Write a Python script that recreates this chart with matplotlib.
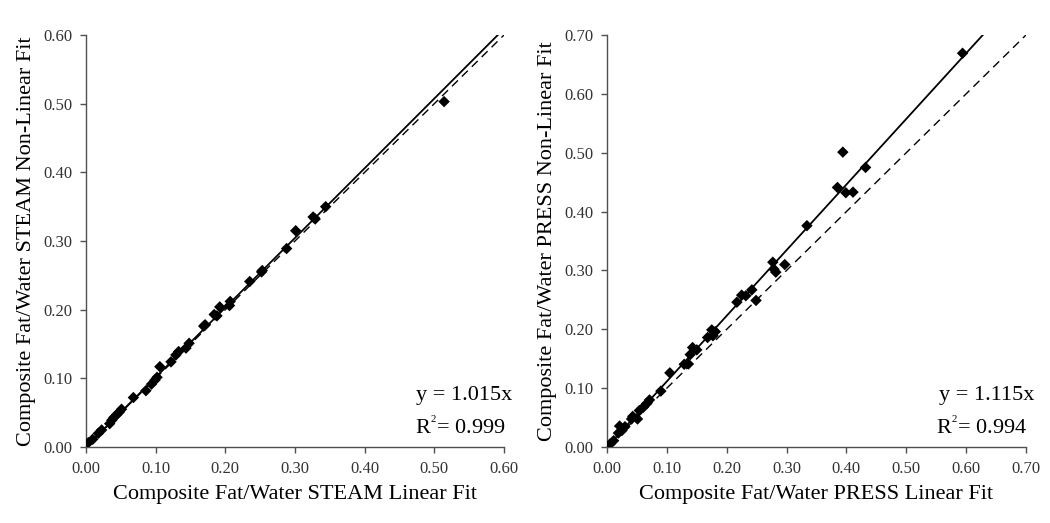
import matplotlib
matplotlib.use("Agg")
import matplotlib.pyplot as plt
import numpy as np

plt.rcParams["font.family"] = ["Liberation Serif", "DejaVu Serif"]
plt.rcParams["mathtext.fontset"] = "custom"
plt.rcParams["mathtext.rm"] = "Liberation Serif"
plt.rcParams["mathtext.it"] = "Liberation Serif:italic"

# STEAM (left) data
steam_linear = [0.514, 0.344, 0.326, 0.329, 0.301, 0.288, 0.253, 0.252, 0.235, 0.207, 0.206,
                0.192, 0.188, 0.184, 0.171, 0.169, 0.148, 0.1435, 0.133, 0.129, 0.122, 0.106,
                0.102, 0.099, 0.094, 0.086, 0.068, 0.051, 0.048, 0.044, 0.040, 0.037, 0.034,
                0.0225, 0.0177, 0.0096, 0.0033]
steam_nonlinear = [0.503, 0.350, 0.335, 0.332, 0.315, 0.289, 0.257, 0.255, 0.241, 0.212, 0.206,
                   0.204, 0.191, 0.193, 0.178, 0.176, 0.151, 0.144, 0.139, 0.134, 0.124, 0.117,
                   0.1015, 0.0975, 0.0915, 0.082, 0.072, 0.055, 0.051, 0.047, 0.043, 0.039, 0.034,
                   0.0248, 0.0199, 0.0112, 0.0063]

# PRESS (right) data
press_linear = [0.594, 0.394, 0.432, 0.385, 0.399, 0.411, 0.334, 0.277, 0.297, 0.279, 0.282,
                0.242, 0.232, 0.225, 0.217, 0.249, 0.175, 0.181, 0.168, 0.177, 0.143, 0.150,
                0.139, 0.129, 0.136, 0.105, 0.090, 0.071, 0.066, 0.0607, 0.054, 0.051, 0.041,
                0.043, 0.030, 0.021, 0.025, 0.019, 0.011, 0.005]
press_nonlinear = [0.669, 0.501, 0.475, 0.441, 0.432, 0.433, 0.376, 0.314, 0.310, 0.302, 0.297,
                   0.267, 0.257, 0.258, 0.246, 0.249, 0.199, 0.196, 0.186, 0.189, 0.169, 0.165,
                   0.157, 0.1405, 0.141, 0.126, 0.095, 0.080, 0.0735, 0.0675, 0.062, 0.0476, 0.0476,
                   0.052, 0.0345, 0.0356, 0.028, 0.0237, 0.0107, 0.0051]

steam_slope = 1.015
press_slope = 1.115
steam_ticks = [0.00, 0.10, 0.20, 0.30, 0.40, 0.50, 0.60]
press_ticks = [0.00, 0.10, 0.20, 0.30, 0.40, 0.50, 0.60, 0.70]

fig = plt.figure(figsize=(10.5, 5.23), dpi=100)
W, H = 1050, 523
axL = fig.add_axes([86 / W, 76 / H, 418 / W, 412 / H])
axR = fig.add_axes([607 / W, 76 / H, 419 / W, 412 / H])


def style(ax, ticks, xlabel, ylabel, xs, ys, slope, eq, r2):
    lim = ticks[-1]
    ax.set_xlim(0, lim)
    ax.set_ylim(0, lim)
    xx = np.array([0, lim])
    ax.plot(xx, slope * xx, color="black", lw=1.3, solid_capstyle="butt", zorder=2)
    ax.plot(xx, xx, color="black", lw=1.0, ls=(0, (6, 4)), zorder=2)
    ax.scatter(xs, ys, marker="D", s=34, color="black", edgecolors="none", zorder=3)
    for s in ["top", "right"]:
        ax.spines[s].set_visible(False)
    for s in ["left", "bottom"]:
        ax.spines[s].set_color("#505050")
        ax.spines[s].set_linewidth(1.0)
    ax.set_xticks(ticks)
    ax.set_yticks(ticks)
    ax.set_xticklabels([f"{t:.2f}" for t in ticks])
    ax.set_yticklabels([f"{t:.2f}" for t in ticks])
    ax.tick_params(axis="both", direction="out", length=4, width=1.0, color="#505050",
                   labelsize=12, labelcolor="#333333")
    ax.tick_params(axis="y", pad=6)
    ax.tick_params(axis="x", pad=6)
    ax.set_xlabel(xlabel, fontsize=16, labelpad=6)
    ax.set_ylabel(ylabel, fontsize=16, labelpad=5)
    ax.text(0.905, 0.125, eq, transform=ax.transAxes, ha="center", va="center", fontsize=16)
    ax.text(0.895, 0.045, r2, transform=ax.transAxes, ha="center", va="center", fontsize=16)


style(axL, steam_ticks, "Composite Fat/Water STEAM Linear Fit",
      "Composite Fat/Water STEAM Non-Linear Fit", steam_linear, steam_nonlinear,
      steam_slope, "y = 1.015x", r"R$^{\mathregular{^{2}}}$= 0.999")
style(axR, press_ticks, "Composite Fat/Water PRESS Linear Fit",
      "Composite Fat/Water PRESS Non-Linear Fit", press_linear, press_nonlinear,
      press_slope, "y = 1.115x", r"R$^{\mathregular{^{2}}}$= 0.994")

fig.savefig("out.png", dpi=100)
